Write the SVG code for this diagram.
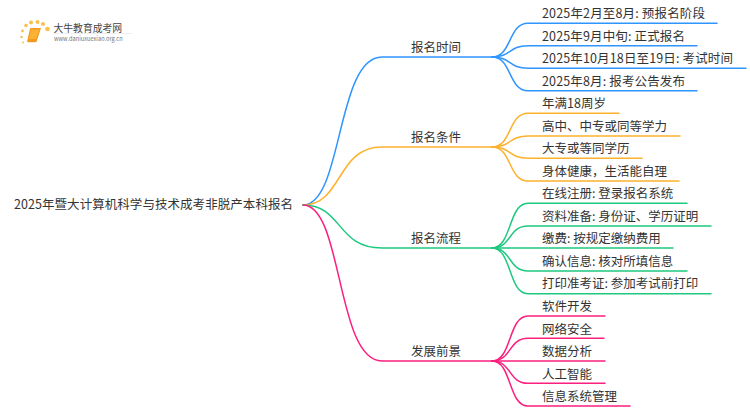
<svg xmlns="http://www.w3.org/2000/svg" width="750" height="410" viewBox="0 0 750 410">
<style>
text{font-family:"Noto Sans CJK SC","Noto Sans",sans-serif;font-size:12.5px;fill:#333}
.c{fill:none;stroke-width:1.5;stroke-linecap:round}
.b{stroke:#2f95ff}.o{stroke:#fdb12c}.g{stroke:#1ec97f}.p{stroke:#fb1f7f}
</style>
<rect width="750" height="410" fill="#fff"/>
<g id="logo">
<g fill="#fbc04c"><circle cx="26" cy="25.500" r="1.800"/><circle cx="31" cy="22.500" r="2"/><circle cx="37.500" cy="22" r="2"/><circle cx="43" cy="24" r="2"/><circle cx="47.500" cy="29" r="2.300"/><circle cx="22.500" cy="31" r="1.400"/><circle cx="21.500" cy="37" r="1.200"/><circle cx="23" cy="42.500" r="1"/></g>
<path d="M30 28.500Q30.500 28 31 28H41L36.500 42Q32 42.500 27 42Z" fill="#f39a1f"/><path d="M31 29.500H39.500L36 39H29Z" fill="#f9b233"/>
<path d="M53 33.500H132" stroke="#eeeeee" stroke-width="1" fill="none"/>
<text x="53.500" y="31.500" style="font-size:9.800px;fill:#444">大牛教育成考网</text>
<text x="54" y="41" style="font-size:5.700px;fill:#777">www.daniuxuexiao.org.cn</text>
</g>
<g id="connectors">
<path class="c b" d="M303 205C343 205 336 57 382 57H492"/>
<path class="c o" d="M303 205C343 205 336 147 382 147H492"/>
<path class="c g" d="M303 205C343 205 336 248 382 248H492"/>
<path class="c p" d="M303 205C343 205 336 361 382 361H492"/>
<path class="c b" d="M492 57C512 57 508 23.300 528 23.300H717"/>
<path class="c b" d="M492 57C512 57 508 45.700 528 45.700H697"/>
<path class="c b" d="M492 57C512 57 508 68.300 528 68.300H746"/>
<path class="c b" d="M492 57C512 57 508 90.700 528 90.700H697"/>
<path class="c o" d="M492 147C512 147 508 113.300 528 113.300H619"/>
<path class="c o" d="M492 147C512 147 508 136 528 136H680"/>
<path class="c o" d="M492 147C512 147 508 158.300 528 158.300H642"/>
<path class="c o" d="M492 147C512 147 508 181 528 181H679"/>
<path class="c g" d="M492 248C512 248 508 203.300 528 203.300H687"/>
<path class="c g" d="M492 248C512 248 508 226 528 226H711"/>
<path class="c g" d="M492 248H673"/>
<path class="c g" d="M492 248C512 248 508 271 528 271H687"/>
<path class="c g" d="M492 248C512 248 508 293.700 528 293.700H711"/>
<path class="c p" d="M492 361C512 361 508 316 528 316H605"/>
<path class="c p" d="M492 361C512 361 508 338.300 528 338.300H604"/>
<path class="c p" d="M492 361H605"/>
<path class="c p" d="M492 361C512 361 508 383.300 528 383.300H605"/>
<path class="c p" d="M492 361C512 361 508 406 528 406H630"/>
</g>
<g id="root"><text x="14" y="209" textLength="279">2025年暨大计算机科学与技术成考非脱产本科报名</text></g>
<g id="n1"><text x="411" y="52">报名时间</text></g>
<g id="n2"><text x="411" y="142">报名条件</text></g>
<g id="n3"><text x="411" y="243">报名流程</text></g>
<g id="n4"><text x="411" y="356">发展前景</text></g>
<g id="n1-1"><text x="542" y="18" textLength="163">2025年2月至8月: 预报名阶段</text></g>
<g id="n1-2"><text x="542" y="41" textLength="143">2025年9月中旬: 正式报名</text></g>
<g id="n1-3"><text x="542" y="63" textLength="191">2025年10月18日至19日: 考试时间</text></g>
<g id="n1-4"><text x="542" y="86" textLength="143">2025年8月: 报考公告发布</text></g>
<g id="n2-1"><text x="542" y="108">年满18周岁</text></g>
<g id="n2-2"><text x="542" y="131">高中、中专或同等学力</text></g>
<g id="n2-3"><text x="542" y="153">大专或等同学历</text></g>
<g id="n2-4"><text x="542" y="176">身体健康，生活能自理</text></g>
<g id="n3-1"><text x="542" y="198">在线注册: 登录报名系统</text></g>
<g id="n3-2"><text x="542" y="221">资料准备: 身份证、学历证明</text></g>
<g id="n3-3"><text x="542" y="243">缴费: 按规定缴纳费用</text></g>
<g id="n3-4"><text x="542" y="266">确认信息: 核对所填信息</text></g>
<g id="n3-5"><text x="542" y="288">打印准考证: 参加考试前打印</text></g>
<g id="n4-1"><text x="542" y="311">软件开发</text></g>
<g id="n4-2"><text x="542" y="334">网络安全</text></g>
<g id="n4-3"><text x="542" y="356">数据分析</text></g>
<g id="n4-4"><text x="542" y="379">人工智能</text></g>
<g id="n4-5"><text x="542" y="401">信息系统管理</text></g>
</svg>
